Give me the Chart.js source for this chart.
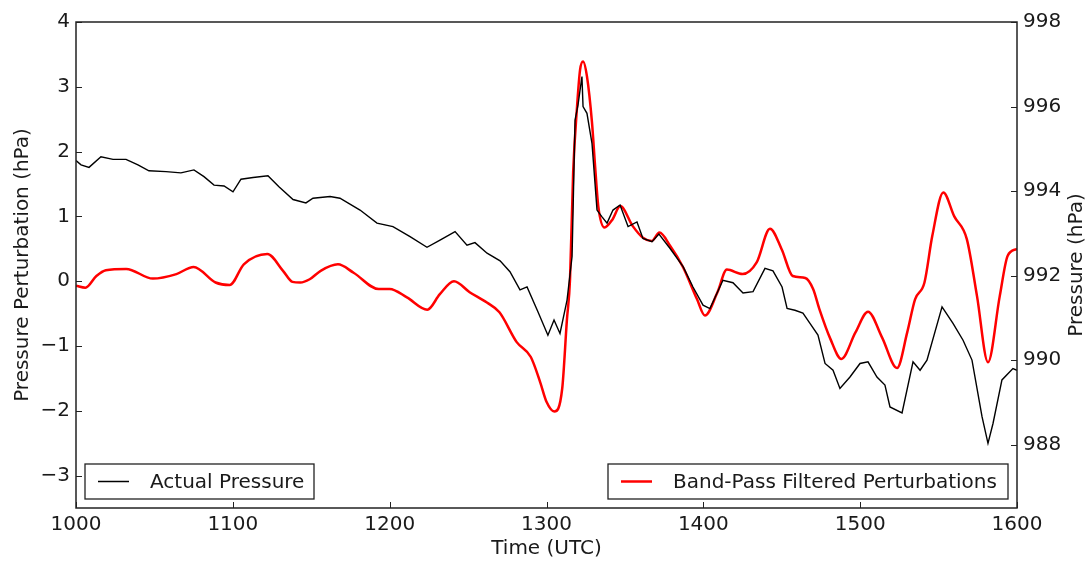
<!DOCTYPE html>
<html>
<head>
<meta charset="utf-8">
<script src="https://cdn.jsdelivr.net/npm/chart.js@4/dist/chart.umd.min.js"></script>
<style>
  html, body { margin: 0; padding: 0; background: #fff; }
  canvas { display: block; }
</style>
</head>
<body>
<canvas id="pressure-chart" width="1091" height="565"></canvas>
<script>
// tick labels
const timeTicks = [1000, 1100, 1200, 1300, 1400, 1500, 1600];
const perturbationTicks = [-3, -2, -1, 0, 1, 2, 3, 4];
const pressureTicks = [988, 990, 992, 994, 996, 998];

// band-pass filtered perturbations (left axis, hPa)
const filteredTimes = [1000, 1006, 1013, 1019, 1032, 1049, 1064, 1075, 1089, 1098,
  1107, 1122, 1132, 1138, 1143, 1149, 1156, 1167, 1177, 1193,
  1200, 1211, 1224, 1232, 1241, 1251, 1262, 1270, 1281, 1290,
  1296, 1300, 1305, 1310, 1313, 1315, 1317, 1319.5, 1321.4, 1323.3,
  1325.8, 1329, 1331, 1333, 1337, 1342, 1347, 1355, 1361.5, 1367,
  1372, 1379, 1387, 1396, 1401, 1409, 1415, 1425, 1434, 1442.5,
  1450, 1457, 1465, 1470, 1474, 1481, 1488, 1497, 1505, 1514,
  1523.5, 1530, 1535, 1541, 1546, 1553, 1560, 1568, 1574.5, 1581.5,
  1589, 1594, 1600];
const filteredPerturbations = [-0.07, -0.10, 0.08, 0.17, 0.19, 0.04, 0.11, 0.22, -0.02, -0.06,
  0.26, 0.42, 0.16, -0.01, -0.02, 0.03, 0.16, 0.26, 0.13, -0.12,
  -0.12, -0.25, -0.44, -0.20, 0.0, -0.17, -0.33, -0.48, -0.94, -1.17,
  -1.56, -1.86, -2.01, -1.66, -0.6, 0.03, 1.68, 2.70, 3.26, 3.39,
  3.16, 2.45, 1.77, 1.16, 0.83, 0.95, 1.16, 0.85, 0.67, 0.62,
  0.75, 0.54, 0.22, -0.28, -0.53, -0.17, 0.18, 0.11, 0.29, 0.81,
  0.49, 0.08, 0.05, -0.12, -0.43, -0.89, -1.20, -0.79, -0.47, -0.87,
  -1.34, -0.79, -0.28, -0.02, 0.70, 1.37, 1.00, 0.65, -0.23, -1.25,
  -0.23, 0.39, 0.50];

// actual station pressure (right axis, hPa)
const actualTimes = [1000, 1003.2, 1008.3, 1015.9, 1023.6, 1031.9, 1039.5, 1046.5, 1057.4, 1066.9,
  1075.2, 1081.6, 1088.0, 1094.4, 1100.1, 1105.2, 1112.9, 1122.4, 1129.4, 1138.4,
  1146.6, 1151.1, 1162.0, 1168.3, 1181.1, 1191.9, 1202.1, 1213.0, 1223.8, 1232.1,
  1241.7, 1249.3, 1254.4, 1262.1, 1270.4, 1276.7, 1283.1, 1287.6, 1294.6, 1300.9,
  1304.8, 1308.6, 1313.1, 1316.3, 1318.2, 1320.1, 1322.6, 1323.3, 1325.8, 1329.0,
  1332.2, 1335.4, 1338.6, 1342.4, 1346.9, 1352.0, 1357.7, 1361.5, 1367.3, 1371.7,
  1378.8, 1387.1, 1393.4, 1399.8, 1404.2, 1412.5, 1418.9, 1425.3, 1431.7, 1439.3,
  1444.4, 1450.2, 1453.4, 1458.4, 1463.5, 1468.0, 1473.1, 1477.6, 1482.7, 1487.1,
  1493.5, 1499.9, 1505.0, 1510.7, 1515.8, 1519.0, 1526.7, 1533.7, 1538.2, 1542.6,
  1552.2, 1559.2, 1565.6, 1571.3, 1577.7, 1581.5, 1584.7, 1590.4, 1597.4, 1600];
const actualPressures = [994.72, 994.62, 994.56, 994.81, 994.75, 994.75, 994.62, 994.48, 994.46, 994.43,
  994.50, 994.34, 994.14, 994.12, 993.98, 994.28, 994.32, 994.36, 994.10, 993.80,
  993.72, 993.83, 993.87, 993.83, 993.55, 993.24, 993.16, 992.92, 992.67, 992.84,
  993.04, 992.72, 992.78, 992.53, 992.35, 992.09, 991.66, 991.73, 991.14, 990.59,
  990.95, 990.63, 991.42, 992.45, 995.68, 996.04, 996.71, 996.00, 995.84, 995.13,
  993.55, 993.39, 993.24, 993.55, 993.67, 993.16, 993.27, 992.88, 992.80, 992.98,
  992.64, 992.21, 991.73, 991.30, 991.22, 991.89, 991.83, 991.59, 991.62, 992.17,
  992.11, 991.73, 991.22, 991.18, 991.11, 990.87, 990.59, 989.92, 989.76, 989.33,
  989.60, 989.92, 989.96, 989.60, 989.41, 988.89, 988.75, 989.96, 989.76, 990.00,
  991.26, 990.87, 990.47, 990.00, 988.66, 988.03, 988.50, 989.53, 989.80, 989.76];

const FONT = '"DejaVu Sans", sans-serif';
const TEXT = '#1a1a1a';
const SIZE = 20;

function toPoints(xs, ys) {
  return xs.map((x, i) => ({ x: x, y: ys[i] }));
}

function minusLabel(v) {
  return v < 0 ? '\u2212' + Math.abs(v) : String(v);
}

// frame, inward ticks, axis titles and the two legend boxes
const decorations = {
  id: 'decorations',
  afterDraw(chart) {
    const ctx = chart.ctx;
    const a = chart.chartArea;
    const sx = chart.scales.x, sy = chart.scales.y, sy2 = chart.scales.y2;
    ctx.save();
    ctx.strokeStyle = '#222';
    ctx.lineWidth = 1;
    ctx.beginPath();
    timeTicks.forEach(v => {
      const px = Math.round(sx.getPixelForValue(v)) + 0.5;
      ctx.moveTo(px, a.bottom); ctx.lineTo(px, a.bottom - 6);
    });
    perturbationTicks.forEach(v => {
      const py = Math.round(sy.getPixelForValue(v)) + 0.5;
      ctx.moveTo(a.left, py); ctx.lineTo(a.left + 6, py);
    });
    pressureTicks.forEach(v => {
      const py = Math.round(sy2.getPixelForValue(v)) + 0.5;
      ctx.moveTo(a.right, py); ctx.lineTo(a.right - 6, py);
    });
    ctx.stroke();

    ctx.lineWidth = 1.5;
    ctx.strokeRect(a.left, a.top, a.right - a.left, a.bottom - a.top);

    ctx.fillStyle = TEXT;
    ctx.font = SIZE + 'px ' + FONT;
    ctx.textAlign = 'center';
    ctx.textBaseline = 'middle';
    const midY = (a.top + a.bottom) / 2;
    ctx.fillText('Time (UTC)', (a.left + a.right) / 2, 549);
    ctx.save();
    ctx.translate(23, midY);
    ctx.rotate(-Math.PI / 2);
    ctx.fillText('Pressure Perturbation (hPa)', 0, 0);
    ctx.restore();
    ctx.save();
    ctx.translate(1077, midY);
    ctx.rotate(-Math.PI / 2);
    ctx.fillText('Pressure (hPa)', 0, 0);
    ctx.restore();

    drawLegend(ctx, 85, 464, 229, 35, '#000', 1.5, 'Actual Pressure');
    drawLegend(ctx, 608, 464, 400, 35, '#ff0000', 2.5, 'Band-Pass Filtered Perturbations');
    ctx.restore();
  }
};

function drawLegend(ctx, x, y, w, h, color, lw, label) {
  ctx.fillStyle = '#fff';
  ctx.fillRect(x, y, w, h);
  ctx.strokeStyle = '#222';
  ctx.lineWidth = 1.3;
  ctx.strokeRect(x, y, w, h);
  ctx.strokeStyle = color;
  ctx.lineWidth = lw;
  ctx.beginPath();
  ctx.moveTo(x + 13, y + h / 2);
  ctx.lineTo(x + 44, y + h / 2);
  ctx.stroke();
  ctx.fillStyle = TEXT;
  ctx.font = SIZE + 'px ' + FONT;
  ctx.textAlign = 'left';
  ctx.textBaseline = 'middle';
  ctx.fillText(label, x + 65, y + h / 2 + 1);
}

const tickFont = { family: FONT, size: SIZE };

new Chart(document.getElementById('pressure-chart').getContext('2d'), {
  type: 'line',
  data: {
    datasets: [
      {
        label: 'Actual Pressure',
        data: toPoints(actualTimes, actualPressures),
        yAxisID: 'y2',
        borderColor: '#000',
        borderWidth: 1.4,
        pointRadius: 0,
        tension: 0,
        order: 0
      },
      {
        label: 'Band-Pass Filtered Perturbations',
        data: toPoints(filteredTimes, filteredPerturbations),
        yAxisID: 'y',
        borderColor: '#ff0000',
        borderWidth: 2.5,
        pointRadius: 0,
        cubicInterpolationMode: 'monotone',
        order: 1
      }
    ]
  },
  options: {
    responsive: false,
    animation: false,
    devicePixelRatio: 1,
    layout: { padding: { top: 22, left: 0, right: 0, bottom: 0 } },
    plugins: { legend: { display: false }, tooltip: { enabled: false } },
    scales: {
      x: {
        type: 'linear',
        min: 1000,
        max: 1600,
        afterBuildTicks: s => { s.ticks = timeTicks.map(v => ({ value: v })); },
        afterFit: s => { s.height = 57; },
        ticks: { font: tickFont, color: TEXT, padding: 5, maxRotation: 0, autoSkip: false, callback: v => String(v) },
        grid: { display: false, drawTicks: false },
        border: { display: false }
      },
      y: {
        position: 'left',
        min: -3.5,
        max: 4,
        afterBuildTicks: s => { s.ticks = perturbationTicks.map(v => ({ value: v })); },
        afterFit: s => { s.width = 76; },
        ticks: { font: tickFont, color: TEXT, padding: 6, callback: minusLabel },
        grid: { display: false, drawTicks: false },
        border: { display: false }
      },
      y2: {
        position: 'right',
        min: 986.5,
        max: 998,
        afterBuildTicks: s => { s.ticks = pressureTicks.map(v => ({ value: v })); },
        afterFit: s => { s.width = 74; },
        ticks: { font: tickFont, color: TEXT, padding: 6, callback: v => String(v) },
        grid: { display: false, drawTicks: false },
        border: { display: false }
      }
    }
  },
  plugins: [decorations]
});
</script>
</body>
</html>
